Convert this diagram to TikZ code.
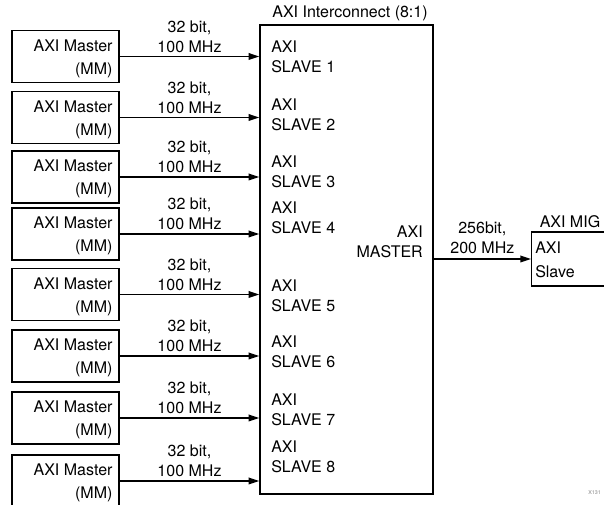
\documentclass[tikz,border=0pt]{standalone}
\usepackage{fontspec}
\setmainfont{TeX Gyre Heros}
\usetikzlibrary{calc, positioning}
\usetikzlibrary{arrows.meta}

\begin{document}
\begin{tikzpicture}[x=0.75pt,y=-0.75pt,
  box/.style={draw,line width=1.1pt,inner sep=0pt},
  link/.style={line width=1.1pt,-{Triangle[length=8pt,width=5pt]}},
  txt/.style={font=\fontsize{12}{15}\selectfont,inner sep=0pt}]
\clip (0,0) rectangle (604,505);

% interconnect
\node[box,minimum width=129.75pt,minimum height=351.75pt] (ic) at (346.5,259.5) {};
\node[txt] (ictitle) at (350,13) {AXI Interconnect (8:1)};
\node[txt,align=right,anchor=east] (icmaster) at (423,242) {AXI\\MASTER};

% masters and slave ports
\foreach \i/\y/\s in {1/56.5/56.5, 2/117.5/114.5, 3/177/171.5, 4/234/217.5,
                      5/294.5/295.5, 6/356/352, 7/418/409.5, 8/481/456.5}{
  \node[box,minimum width=80.25pt,minimum height=39pt] (m\i) at (65.5,\y) {};
  \node[txt,align=right,anchor=east] (mt\i) at ([shift={(-7,2)}]m\i.east)
    {AXI Master\\[2.25pt](MM)};
  \node[txt,align=left,anchor=west] (s\i) at (271,\s) {AXI\\SLAVE \i};
  \draw[link] (m\i.east) -- (m\i.east -| ic.west)
    node[txt,midway,align=center,yshift=15pt] {32 bit,\\100 MHz};
}

% memory controller
\node[box,minimum width=90pt,minimum height=40.5pt,anchor=west] (mig) at (531,259) {};
\node[txt] (migtitle) at (570,222) {AXI MIG};
\node[txt,align=left,anchor=west] (migport) at (535,260) {AXI\\[3pt]Slave};
\draw[link] (ic.east |- mig.west) -- (mig.west)
  node[txt,midway,align=center,yshift=16pt] {256bit,\\200 MHz};

\node[font=\fontsize{4}{4}\selectfont,text=gray,anchor=east,inner sep=0pt] (tag) at (601,493) {X131};
\end{tikzpicture}
\end{document}
